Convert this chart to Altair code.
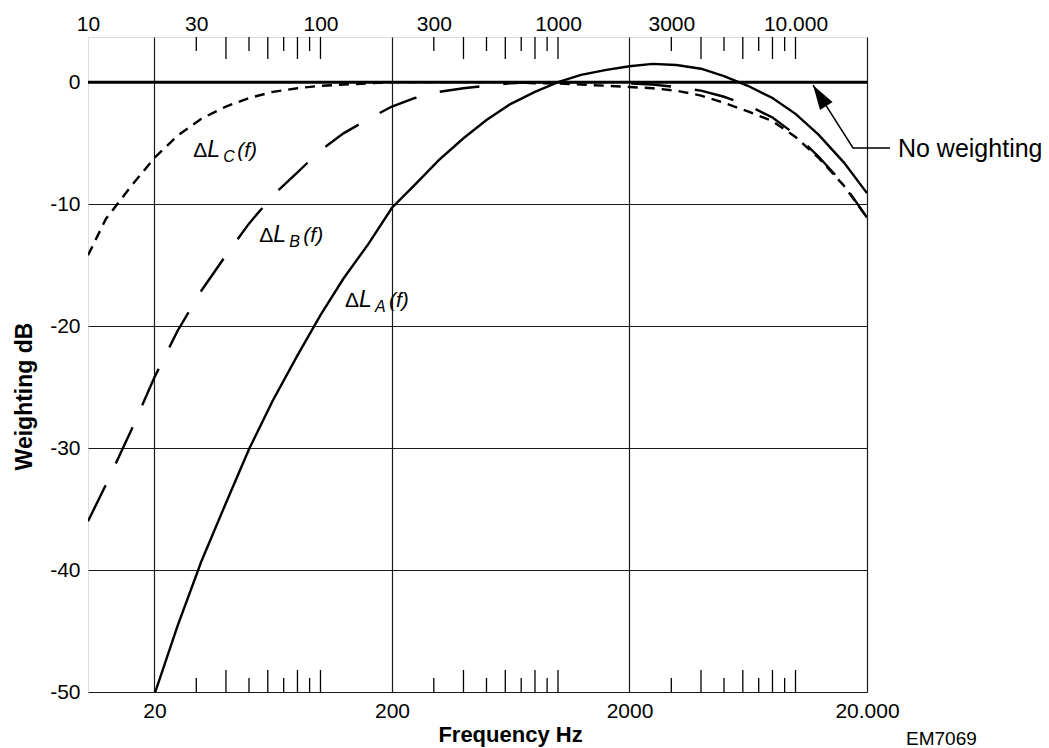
import altair as alt
import pandas as pd

# ---------------- data ----------------
FREQ = [10.5, 12.5, 16, 20, 25, 31.5, 40, 50, 63, 80, 100, 125, 160, 200, 250, 315,
        400, 500, 630, 800, 1000, 1250, 1600, 2000, 2500, 3150, 4000, 5000, 6300,
        8000, 10000, 12500, 16000, 20000]
A_DB = [None, None, None, -50.2, -44.6, -39.3, -34.5, -30.1, -26.1, -22.4, -19.1,
        -16.1, -13.2, -10.3, -8.4, -6.4, -4.6, -3.1, -1.8, -0.8, 0.0, 0.6, 1.0,
        1.3, 1.5, 1.4, 1.1, 0.5, -0.3, -1.3, -2.6, -4.3, -6.6, -9.1]
B_DB = [-36.0, -33.0, -28.5, -24.2, -20.4, -17.1, -14.2, -11.6, -9.3, -7.4, -5.6,
        -4.2, -3.0, -2.0, -1.3, -0.8, -0.5, -0.3, -0.1, 0.0, 0.0, 0.0, 0.0, -0.1,
        -0.2, -0.4, -0.7, -1.2, -1.9, -2.9, -4.3, -6.1, -8.4, -11.1]
C_DB = [-14.2, -11.2, -8.5, -6.2, -4.4, -3.0, -2.0, -1.3, -0.8, -0.5, -0.3, -0.2,
        -0.1, 0.0, 0.0, 0.0, 0.0, 0.0, 0.0, -0.1, -0.1, -0.2, -0.3, -0.4, -0.5,
        -0.7, -1.1, -1.7, -2.4, -3.2, -4.5, -6.2, -8.5, -11.1]

X_MIN, X_MAX = 10.5, 20000
TOP_LABEL_FREQ = [10, 30, 100, 300, 1000, 3000, 10000]
BOTTOM_LABEL_FREQ = [20, 200, 2000, 20000]
DB_TICKS = [0, -10, -20, -30, -40, -50]
LONG_TICKS = [40, 60, 80, 100, 400, 600, 800, 1000, 4000, 6000, 8000, 10000]
SHORT_TICKS = [30, 50, 70, 90, 300, 500, 700, 900, 3000, 5000, 7000, 9000]

CURVE_LABEL_SUB = ["C", "B", "A"]
CURVE_LABEL_FREQ = [29.1, 55.3, 126.8]
CURVE_LABEL_DB = [-6.15, -13.1, -18.45]

NOTE_TEXT = ["No weighting"]
NOTE_FREQ = [27000]
NOTE_DB = [-6.15]
LEADER_FREQ = [25000, 17460, 11855]
LEADER_DB = [-5.4, -5.4, -0.25]
ARROW_FREQ = [11855]
ARROW_DB = [-0.25]

CAPTION = ["EM7069"]

FONT = "Liberation Sans"

# ---------------- tables ----------------
curves = pd.DataFrame({"freq": FREQ, "A": A_DB, "B": B_DB, "C": C_DB})
long_ticks = pd.DataFrame({"freq": LONG_TICKS})
short_ticks = pd.DataFrame({"freq": SHORT_TICKS})
labels = pd.DataFrame({"freq": CURVE_LABEL_FREQ, "db": CURVE_LABEL_DB,
                       "sub": CURVE_LABEL_SUB, "delta": ["Δ"] * 3,
                       "L": ["L"] * 3, "f": ["(f)"] * 3})
note = pd.DataFrame({"freq": NOTE_FREQ, "db": NOTE_DB, "text": NOTE_TEXT})
leader = pd.DataFrame({"freq": LEADER_FREQ, "db": LEADER_DB,
                       "i": list(range(len(LEADER_FREQ)))})
arrow = pd.DataFrame({"freq": ARROW_FREQ, "db": ARROW_DB})
caption = pd.DataFrame({"text": CAPTION})
zero = pd.DataFrame({"db": [0]})

x_scale = alt.Scale(type="log", domain=[X_MIN, X_MAX])
y_scale = alt.Scale(domain=[-50, 3.7], nice=False, zero=False)

# the "10" of the top scale sits on the left frame edge
top_values = [max(v, X_MIN) for v in TOP_LABEL_FREQ]

LABEL_EXPR = ("datum.value < 11 ? '10' : datum.value >= 10000 ? "
              "replace(format(datum.value, ','), ',', '.')"
              " : format(datum.value, 'd')")

bottom_axis = alt.Axis(
    values=BOTTOM_LABEL_FREQ, labelExpr=LABEL_EXPR, grid=True, gridColor="#1a1a1a",
    gridWidth=1.2, ticks=False, domain=False, labelFontSize=21, labelPadding=8,
    labelFlush=False, labelOverlap=False, labelColor="black",
    title="Frequency Hz", titleFontSize=22, titleFontWeight="bold",
    titleColor="black", titleX=422, titleY=49, titleBaseline="alphabetic",
    titleAlign="center")
top_axis = alt.Axis(
    orient="top", values=top_values, labelExpr=LABEL_EXPR, grid=False,
    ticks=False, domain=False, labelFontSize=21, labelPadding=3, labelFlush=False,
    labelOverlap=False, labelColor="black", title=None)
y_axis = alt.Axis(
    values=DB_TICKS, labelExpr="'' + datum.value", grid=True, gridColor="#1a1a1a",
    gridWidth=1.2, ticks=False,
    domain=False, labelFontSize=21, labelPadding=8, labelColor="black",
    labelFlush=False, labelOverlap=False,
    title="Weighting dB", titleFontSize=23, titleFontWeight="bold",
    titleColor="black", titleX=-57, titleY=359, titleBaseline="alphabetic",
    titleAlign="center", titleAngle=270)

def X(axis=None):
    return alt.X("freq:Q", scale=x_scale, axis=axis)

def Y(field, axis=None):
    return alt.Y(f"{field}:Q", scale=y_scale, axis=axis)

zero_line = alt.Chart(zero).mark_rule(color="black", strokeWidth=3).encode(
    y=alt.Y("db:Q", scale=y_scale, axis=y_axis))

curve_a = alt.Chart(curves).mark_line(color="black", strokeWidth=2.4, clip=True).encode(
    x=X(bottom_axis), y=Y("A"))
curve_b = alt.Chart(curves).mark_line(color="black", strokeWidth=2.4, clip=True,
                                      strokeDash=[40, 24]).encode(x=X(), y=Y("B"))
curve_c = alt.Chart(curves).mark_line(color="black", strokeWidth=2.4, clip=True,
                                      strokeDash=[10, 7]).encode(x=X(), y=Y("C"))

top_long = alt.Chart(long_ticks).mark_rule(color="black", strokeWidth=1.3).encode(
    x=X(top_axis), y=alt.value(0), y2=alt.value(22))
top_short = alt.Chart(short_ticks).mark_rule(color="black", strokeWidth=1.3).encode(
    x=X(), y=alt.value(0), y2=alt.value(14))
bot_long = alt.Chart(long_ticks).mark_rule(color="black", strokeWidth=1.3).encode(
    x=X(), y=alt.value(655), y2=alt.value(633))
bot_short = alt.Chart(short_ticks).mark_rule(color="black", strokeWidth=1.3).encode(
    x=X(), y=alt.value(655), y2=alt.value(641))

lab_base = alt.Chart(labels).encode(x=X(), y=Y("db"))
lab_delta = lab_base.mark_text(align="left", baseline="alphabetic", font=FONT,
                               fontSize=21, color="black").encode(text="delta:N")
lab_L = lab_base.mark_text(align="left", baseline="alphabetic", font=FONT,
                           fontSize=23, fontStyle="italic", color="black",
                           dx=14).encode(text="L:N")
lab_sub = lab_base.mark_text(align="left", baseline="alphabetic", font=FONT,
                             fontSize=16, fontStyle="italic", color="black",
                             dx=30, dy=5).encode(text="sub:N")
lab_f = lab_base.mark_text(align="left", baseline="alphabetic", font=FONT,
                           fontSize=21, fontStyle="italic", color="black",
                           dx=44).encode(text="f:N")

note_text = alt.Chart(note).mark_text(align="left", baseline="alphabetic", font=FONT,
                                      fontSize=25, color="black").encode(
    x=X(), y=Y("db"), text="text:N")
leader_line = alt.Chart(leader).mark_line(color="black", strokeWidth=1.5).encode(
    x=X(), y=Y("db"), order="i:Q")
arrow_head = alt.Chart(arrow).mark_point(
    shape="M0,0 L-0.3,1 L0.3,1 Z", size=2440, angle=327.6, filled=True,
    color="black", opacity=1, strokeWidth=0).encode(x=X(), y=Y("db"))

caption_text = alt.Chart(caption).mark_text(align="left", baseline="alphabetic",
                                            font=FONT, fontSize=19,
                                            color="black").encode(
    x=alt.value(818), y=alt.value(708), text="text:N")

chart = alt.layer(
    zero_line, curve_c, curve_b, curve_a,
    top_long, top_short, bot_long, bot_short,
    lab_delta, lab_L, lab_sub, lab_f,
    leader_line, arrow_head, note_text, caption_text,
).resolve_scale(x="shared", y="shared").resolve_axis(
    x="independent", y="independent").properties(
    width=779, height=655,
    padding={"left": 80, "top": 29, "right": 174, "bottom": 56},
    autosize=alt.AutoSizeParams(type="none"),
).configure_view(stroke="black", strokeWidth=1.5).configure_axis(
    labelFont=FONT, titleFont=FONT).configure(background="white")

chart.save("out.html", embed_options={"renderer": "svg", "actions": False})
